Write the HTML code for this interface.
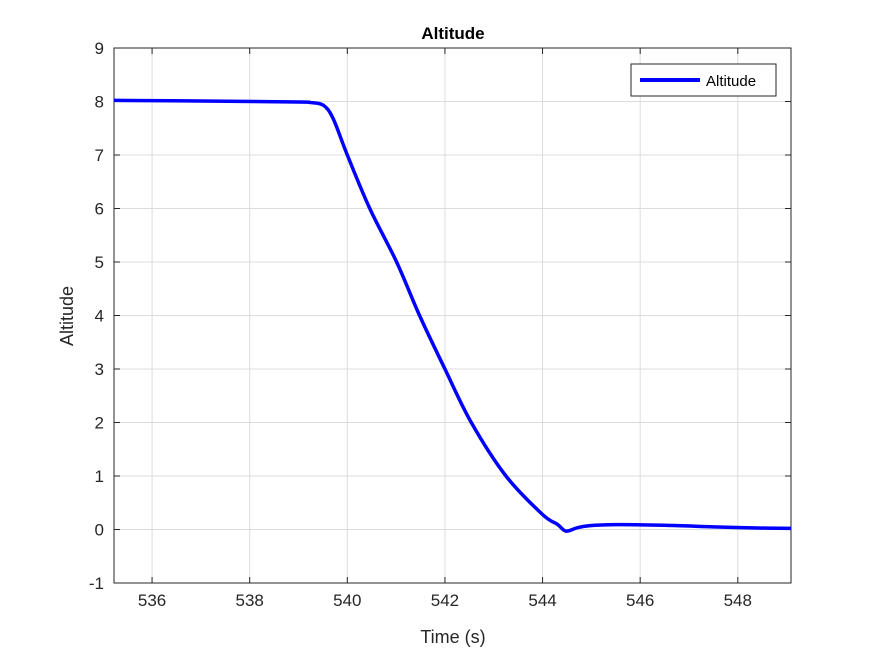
<!DOCTYPE html>
<html><head><meta charset="utf-8"><style>
body{margin:0;background:#fff;}
svg{display:block;font-family:"Liberation Sans",Arial,sans-serif;}
</style></head><body>
<svg id="chart" width="875" height="656" viewBox="0 0 875 656">
<rect width="875" height="656" fill="#fff"/>
<g id="grid"></g>
<g id="axes"></g>
<g id="series"></g>
<text x="453" y="39" text-anchor="middle" font-size="17" font-weight="bold" fill="#000">Altitude</text>
<text x="453" y="643" text-anchor="middle" font-size="18" fill="#262626">Time (s)</text>
<text transform="translate(73,316) rotate(-90)" text-anchor="middle" font-size="18" fill="#262626">Altitude</text>
<g>
<rect x="631" y="64" width="145" height="32" fill="#fff" stroke="#262626" stroke-width="1"/>
<line x1="640" y1="80" x2="700" y2="80" stroke="#0000ff" stroke-width="4"/>
<text x="706" y="86" font-size="15" fill="#000">Altitude</text>
</g>
</svg>
<script>
const times=[535.22,537.0,539.0,539.25,539.51,539.71,540.0,540.46,541.01,541.48,542.0,542.54,543.25,544.0,544.3,544.48,544.7,544.95,545.5,546.5,547.5,548.3,549.09];
const altitude=[8.02,8.01,7.99,7.98,7.93,7.68,7.0,6.0,5.0,4.0,3.0,2.0,1.0,0.28,0.1,-0.03,0.03,0.07,0.09,0.08,0.05,0.03,0.02];
const xTicks=[536,538,540,542,544,546,548];
const yTicks=[-1,0,1,2,3,4,5,6,7,8,9];
const L=114,R=791,T=48,B=583,xMin=535.22,xMax=549.09,yMin=-1,yMax=9;
const X=v=>L+(v-xMin)/(xMax-xMin)*(R-L);
const Y=v=>B-(v-yMin)/(yMax-yMin)*(B-T);
const NS="http://www.w3.org/2000/svg";
const grid=document.getElementById('grid'),axes=document.getElementById('axes'),ser=document.getElementById('series');
function mk(tag,attrs,parent){const e=document.createElementNS(NS,tag);for(const k in attrs)e.setAttribute(k,attrs[k]);parent.appendChild(e);return e;}
xTicks.forEach(t=>{
 const g=mk('line',{x1:X(t),x2:X(t),y1:T,y2:B,stroke:'#dcdcdc','stroke-width':1},grid);
 
 
 mk('line',{x1:X(t),x2:X(t),y1:B,y2:B-6,stroke:'#262626'},axes);
 mk('line',{x1:X(t),x2:X(t),y1:T,y2:T+6,stroke:'#262626'},axes);
 const tx=mk('text',{x:X(t),y:B+23,'text-anchor':'middle','font-size':17,fill:'#262626'},axes);
 tx.textContent=t;
 
 
});
yTicks.forEach(t=>{
 const g=mk('line',{x1:L,x2:R,y1:Y(t),y2:Y(t),stroke:'#dcdcdc','stroke-width':1},grid);
 
 
 mk('line',{x1:L,x2:L+6,y1:Y(t),y2:Y(t),stroke:'#262626'},axes);
 mk('line',{x1:R,x2:R-6,y1:Y(t),y2:Y(t),stroke:'#262626'},axes);
 const tx=mk('text',{x:L-10,y:Y(t)+6,'text-anchor':'end','font-size':17,fill:'#262626'},axes);
 tx.textContent=t;
 
 
});
const box=mk('rect',{x:L,y:T,width:R-L,height:B-T,fill:'none',stroke:'#262626','stroke-width':1},axes);


let d='';
for(let i=0;i<times.length;i++){
 const x=X(times[i]),y=Y(altitude[i]);
 if(i===0){d='M'+x+','+y;continue;}
 const x0=X(times[i-1]),y0=Y(altitude[i-1]);
 const xp=i>1?X(times[i-2]):x0,yp=i>1?Y(altitude[i-2]):y0;
 const xn=i<times.length-1?X(times[i+1]):x,yn=i<times.length-1?Y(altitude[i+1]):y;
 const c1x=x0+(x-xp)/6,c1y=y0+(y-yp)/6,c2x=x-(xn-x0)/6,c2y=y-(yn-y0)/6;
 d+=' C'+c1x+','+c1y+' '+c2x+','+c2y+' '+x+','+y;
}
const p=mk('path',{d:d,fill:'none',stroke:'#0000ff','stroke-width':3.5,'stroke-linejoin':'round'},ser);


</script>
</body></html>
